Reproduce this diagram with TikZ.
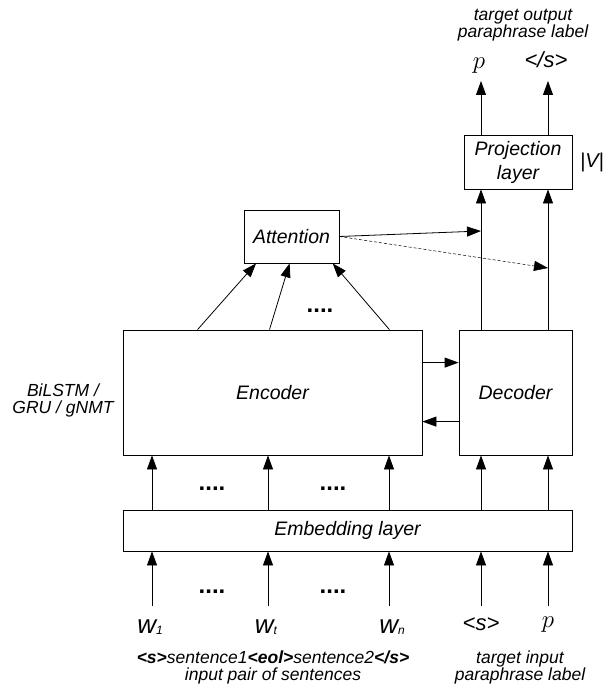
\documentclass[tikz,border=0pt]{standalone}
\usepackage{fontspec}
\setmainfont{Liberation Sans}
\usetikzlibrary{arrows.meta, positioning, calc}
\newcommand{\setsz}[2]{\fontsize{#1}{#2}\selectfont}
\newcommand{\wsub}[1]{{\setsz{26}{26}w}\raisebox{-1pt}{\setsz{12}{12}#1}}

\begin{document}
\begin{tikzpicture}[x=1pt, y=-1pt, line width=0.8pt,
    >={Triangle[length=14pt, width=10pt]},
    box/.style={draw, inner sep=0pt, font=\itshape\setsz{19.5}{24}, align=center},
    note/.style={align=center, inner sep=0pt, font=\itshape\setsz{17.5}{17}},
    tok/.style={inner sep=0pt, anchor=base, font=\itshape\setsz{22}{22}},
    dots/.style={inner sep=0pt, font=\bfseries\setsz{24}{24}}]
    \useasboundingbox (0,0) rectangle (604,687);
    % boxes
    \node[box, minimum width=299pt, minimum height=125pt] (enc) at (272.5,392.5) {Encoder};
    \node[box, minimum width=113pt, minimum height=125pt] (dec) at (515.5,392.5) {Decoder};
    \node[box, minimum width=449pt, minimum height=41pt] (emb) at (347.5,530.5) {Embedding layer};
    \node[box, minimum width=95pt, minimum height=53pt] (att) at (291.5,236.5) {Attention};
    \node[box, minimum width=108pt, minimum height=54pt] (proj) at (518,162) {Projection\\layer};
    \node[inner sep=0pt, font=\itshape\setsz{20}{20}] (vsize) at (592,162) {|V|};
    \node[note] (rnn) at (63,400) {BiLSTM /\\GRU / gNMT};
    % columns and free ends
    \foreach \n/\x in {1/152, 2/268, 3/389, 4/481, 5/548}
        \coordinate (c\n) at (\x,0);
    \coordinate (in) at (0,606);
    \coordinate (out) at (0,81);
    \coordinate (ctx1) at (481,231);
    \coordinate (ctx2) at (548,268);
    % input and output tokens
    \node[tok] (w1) at (150,633) {\wsub{1}};
    \node[tok] (wt) at (266,633) {\wsub{t}};
    \node[tok] (wn) at (392,633) {\wsub{n}};
    \node[tok] (sos) at (481,630) {<s>};
    \node[tok, font=\Huge] (pin) at (548,627) {$p$};
    \node[tok, font=\Huge] (pout) at (479,69) {$p$};
    \node[tok] (eos) at (546,68) {</s>};
    \node[note] (tgtout) at (523,25) {target output\\paraphrase label};
    \node[note] (src) at (273,667) {\textbf{<s>}sentence1\textbf{<eol>}sentence2\textbf{</s>}\\input pair of sentences};
    \node[note] (tgtin) at (520,667) {target input\\paraphrase label};
    % dots
    \node[dots] (dt0) at (320,311) {....};
    \node[dots] (dt1) at (212,489) {....};
    \node[dots] (dt2) at (333,489) {....};
    \node[dots] (dt3) at (212,592) {....};
    \node[dots] (dt4) at (333,592) {....};
    % connectors
    \foreach \n in {1,...,5}
        \draw[->] (c\n |- in) -- (c\n |- emb.south);
    \foreach \n in {1,2,3}
        \draw[->] (c\n |- emb.north) -- (c\n |- enc.south);
    \foreach \n in {4,5} {
        \draw[->] (c\n |- emb.north) -- (c\n |- dec.south);
        \draw[->] (c\n |- dec.north) -- (c\n |- proj.south);
        \draw[->] (c\n |- proj.north) -- (c\n |- out);
    }
    \foreach \a/\b in {0.25/0.13, 0.49/0.48, 0.89/0.93}
        \draw[->] ($(enc.north west)!\a!(enc.north east)$) -- ($(att.south west)!\b!(att.south east)$);
    \draw[->] ($(enc.north east)+(0,33)$) -- ($(dec.north west)+(0,33)$);
    \draw[->] ($(dec.north west)+(0,92)$) -- ($(enc.north east)+(0,92)$);
    \draw[->] (att.east) -- (ctx1);
    \draw[->, densely dashed, line width=0.5pt] (att.east) -- (ctx2);
\end{tikzpicture}
\end{document}
